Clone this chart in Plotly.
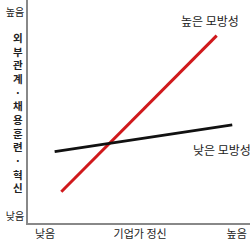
import plotly.graph_objects as go

# Data (axis 0..10 units)
high_x = [1.5, 8.5]
high_y = [1.4, 8.4]
low_x = [1.2, 9.2]
low_y = [3.2, 4.4]
series_names = ["높은 모방성", "낮은 모방성"]
x_ticks = [0.77, 5.05, 9.4]
x_ticktext = ["낮음", "기업가 정신", "높음"]
y_ticks = [0.31, 9.42]
y_ticktext = ["낮음", "높음"]
y_title = "외부관계·채용훈련·혁신"

FONT = "Noto Sans CJK KR"
W, H = 250, 246
L, B, T, R = 28, 23, 0, 0
PW, PH = W - L - R, H - B - T

fig = go.Figure()
fig.add_trace(go.Scatter(x=high_x, y=high_y, mode="lines",
                         line=dict(color="#d0191c", width=3), name=series_names[0]))
fig.add_trace(go.Scatter(x=low_x, y=low_y, mode="lines",
                         line=dict(color="#111111", width=3), name=series_names[1]))

fig.update_layout(
    width=W, height=H,
    margin=dict(l=L, r=R, t=T, b=B, autoexpand=False),
    paper_bgcolor="white", plot_bgcolor="white",
    showlegend=False,
    font=dict(family=FONT, size=11, color="#222"),
    xaxis=dict(range=[0, 10], showgrid=False, zeroline=False, automargin=False,
               showline=True, linecolor="#888", linewidth=1.5,
               tickvals=x_ticks, ticktext=x_ticktext, ticks="",
               tickfont=dict(family=FONT, size=11, color="#222")),
    yaxis=dict(range=[0, 10], showgrid=False, zeroline=False, automargin=False,
               showline=True, linecolor="#888", linewidth=1.5,
               tickvals=y_ticks, ticktext=y_ticktext, ticks="",
               tickfont=dict(family=FONT, size=10, color="#222")),
)

# series labels
fig.add_annotation(x=8.2, y=9.1, xref="x", yref="y", text=series_names[0],
                   showarrow=False, font=dict(family=FONT, size=12, color="#222"))
fig.add_annotation(x=8.75, y=3.3, xref="x", yref="y", text=series_names[1],
                   showarrow=False, font=dict(family=FONT, size=12, color="#222"))

# vertical stacked y title (one upright character per line)
center_px = 112
fig.add_annotation(x=(12 - L) / PW, y=(PH - center_px) / PH, xref="paper", yref="paper",
                   text="<br>".join(list(y_title)), showarrow=False,
                   align="center", valign="middle", borderpad=0,
                   font=dict(family=FONT, size=10.5, color="#222", weight="bold"))

fig.write_html("out.html")
